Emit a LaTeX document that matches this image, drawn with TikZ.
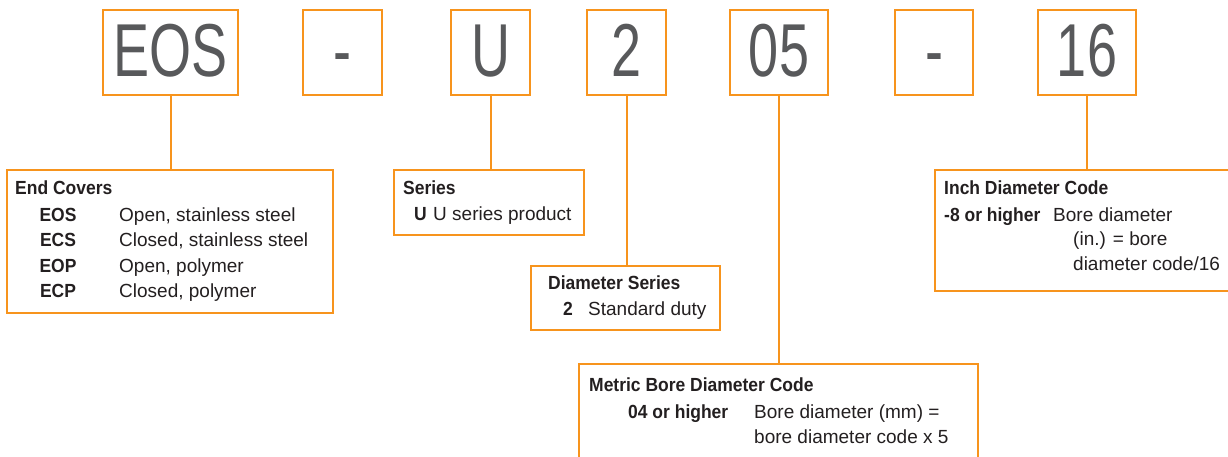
\documentclass[tikz,border=0pt]{standalone}
\usepackage{fontspec}
\setmainfont{Liberation Sans}[BoldFeatures={FakeStretch=0.92}]
\newfontfamily\bigfont{Liberation Sans}[FakeStretch=0.72]
\definecolor{orng}{RGB}{247,148,29}
\definecolor{gry}{RGB}{88,89,91}
\definecolor{txt}{RGB}{35,31,32}
\begin{document}
\begin{tikzpicture}[x=1pt,y=-1pt,
  codebox/.style={draw=orng,line width=2pt,minimum height=85pt,inner sep=0pt,
    font=\bigfont\fontsize{75}{75}\selectfont,text=gry,text height=49pt,text depth=0pt},
  infobox/.style={draw=orng,line width=2pt,inner sep=0pt},
  link/.style={draw=orng,line width=2pt},
  lbl/.style={anchor=base west,inner sep=0pt,font=\fontsize{19}{19}\selectfont,text=txt},
  hd/.style={anchor=base west,inner sep=0pt,font=\bfseries\fontsize{19}{19}\selectfont,text=txt},
  cd/.style={anchor=base,inner sep=0pt,font=\bfseries\fontsize{19}{19}\selectfont,text=txt},
  ]
\useasboundingbox (0,0) rectangle (1228,457);
% top code boxes
\node[codebox,minimum width=135pt] (eos) at (170.5,52.5) {EOS};
\node[codebox,minimum width=79pt] (d1) at (342.5,52.5) {-};
\node[codebox,minimum width=79pt] (u) at (490.5,52.5) {U};
\node[codebox,minimum width=79pt] (two) at (626.5,52.5) {2};
\node[codebox,minimum width=98pt] (ofive) at (779,52.5) {05};
\node[codebox,minimum width=78pt] (d2) at (934,52.5) {-};
\node[codebox,minimum width=98pt] (sixteen) at (1087,52.5) {16};
% info boxes
\node[infobox,minimum width=326pt,minimum height=143pt] (endcov) at (170,241.5) {};
\node[infobox,minimum width=190pt,minimum height=65pt] (series) at (489,202.5) {};
\node[infobox,minimum width=189pt,minimum height=64pt] (diam) at (625.5,298) {};
\node[infobox,minimum width=399pt,minimum height=106pt] (metric) at (778.5,417) {};
\node[infobox,minimum width=305pt,minimum height=121pt] (inch) at (1087.5,230.5) {};
% connectors
\draw[link] (eos.south) -- (eos.south |- endcov.north);
\draw[link] (u.south) -- (u.south |- series.north);
\draw[link] (two.south) -- (two.south |- diam.north);
\draw[link] (ofive.south) -- (ofive.south |- metric.north);
\draw[link] (sixteen.south) -- (sixteen.south |- inch.north);
% End Covers
\node[hd] (ecT) at (15,195) {End Covers};
\node[cd] (ec1) at (58,221) {EOS};
\node[lbl] (ec1t) at (119,221) {Open, stainless steel};
\node[cd] (ec2) at (58,246.5) {ECS};
\node[lbl] (ec2t) at (119,246.5) {Closed, stainless steel};
\node[cd] (ec3) at (58,272) {EOP};
\node[lbl] (ec3t) at (119,272) {Open, polymer};
\node[cd] (ec4) at (58,297.5) {ECP};
\node[lbl] (ec4t) at (119,297.5) {Closed, polymer};
% Series
\node[hd] (seT) at (403,195) {Series};
\node[hd] (se1) at (414,220) {U};
\node[lbl] (se1t) at (433,220) {U series product};
% Diameter series
\node[hd] (dsT) at (548,289) {Diameter Series};
\node[hd] (ds1) at (563,315) {2};
\node[lbl] (ds1t) at (588,315) {Standard duty};
% Metric
\node[hd] (mT) at (589,391) {Metric Bore Diameter Code};
\node[hd] (m1) at (628,418) {04 or higher};
\node[lbl] (m1t) at (754,418) {Bore diameter (mm) =};
\node[lbl] (m2t) at (754,443) {bore diameter code x 5};
% Inch
\node[hd] (iT) at (944,195) {Inch Diameter Code};
\node[hd] (i1) at (944,222) {-8 or higher};
\node[lbl] (i1t) at (1053,222) {Bore diameter};
\node[lbl] (i2t) at (1073,245) {(in.) = bore};
\node[lbl] (i3t) at (1073,270) {diameter code/16};
\end{tikzpicture}
\end{document}
